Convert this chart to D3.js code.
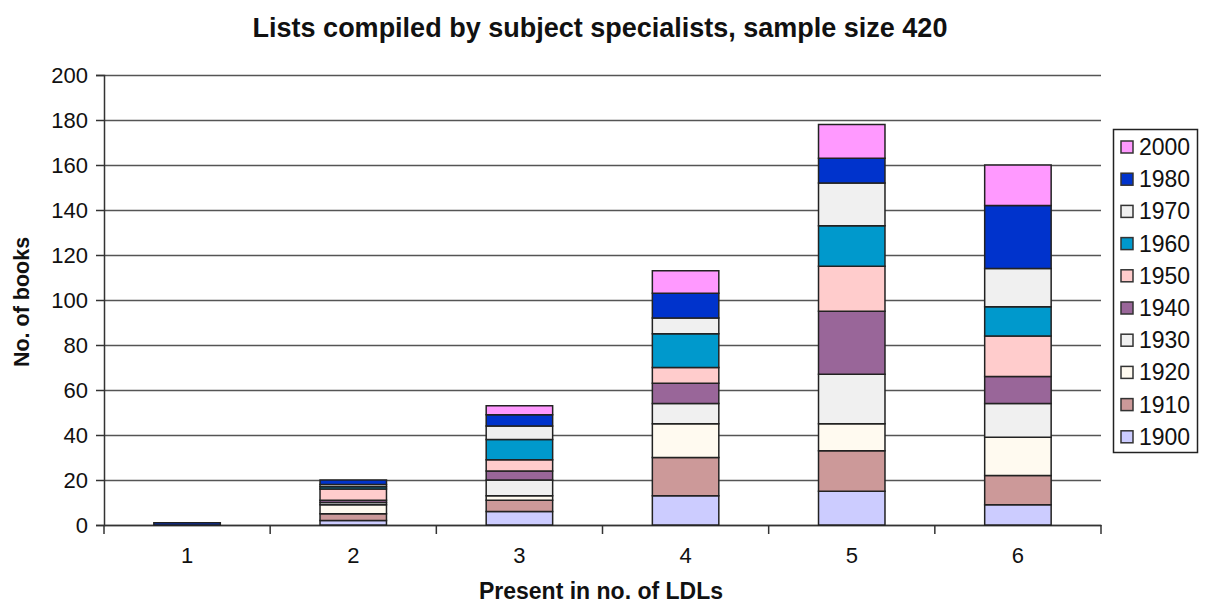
<!DOCTYPE html>
<html>
<head>
<meta charset="utf-8">
<style>
    body { margin: 0; background: #fff; }
    svg { display: block; font-family: "Liberation Sans", Arial, Helvetica, sans-serif; }
    .grid line { stroke: #555; stroke-width: 1.5; }
    .grid .domain { display: none; }
    .y .tick text, .x .tick text { font-size: 22px; fill: #111; }
    .y .tick line, .x .tick line { stroke: #333; stroke-width: 1.5; }
    .y .domain, .x .domain { stroke: #333; stroke-width: 1.5; }
    .title { font-size: 27px; font-weight: bold; fill: #111; }
    .axis-label { font-size: 23px; font-weight: bold; fill: #111; }
    .ylabel { font-size: 21.5px; }
    .legend text { font-size: 23px; fill: #111; }
</style>
</head>
<body>
<svg width="1207" height="606"></svg>

<script src="https://cdnjs.cloudflare.com/ajax/libs/d3/7.8.5/d3.min.js"></script>
<script>
    // categories on the x axis (number of LDLs)
    let categories = ["1", "2", "3", "4", "5", "6"]

    // decades, bottom of stack first
    let decades = ["1900", "1910", "1920", "1930", "1940", "1950", "1960", "1970", "1980", "2000"]

    // books per decade, one value per category
    let v1900 = [0, 2, 6, 13, 15, 9]
    let v1910 = [0, 3, 5, 17, 18, 13]
    let v1920 = [0, 4, 2, 15, 12, 17]
    let v1930 = [0, 1, 7, 9, 22, 15]
    let v1940 = [0, 1, 4, 9, 28, 12]
    let v1950 = [0, 5, 5, 7, 20, 18]
    let v1960 = [0, 1, 9, 15, 18, 13]
    let v1970 = [0, 1, 6, 7, 19, 17]
    let v1980 = [1, 2, 5, 11, 11, 28]
    let v2000 = [0, 0, 4, 10, 15, 18]

    let yTicks = [0, 20, 40, 60, 80, 100, 120, 140, 160, 180, 200]

    let decadeColors = [
        "#ccccff", // 1900
        "#cc9999", // 1910
        "#fffaf0", // 1920
        "#f0f0f0", // 1930
        "#996699", // 1940
        "#ffcccc", // 1950
        "#0099cc", // 1960
        "#f0f0f0", // 1970
        "#0033cc", // 1980
        "#ff99ff"  // 2000
    ]

    let seriesValues = [v1900, v1910, v1920, v1930, v1940, v1950, v1960, v1970, v1980, v2000]

    // build rows for d3.stack
    let rows = categories.map((c, i) => {
        let row = { cat: c }
        decades.forEach((d, j) => { row[d] = seriesValues[j][i] })
        return row
    })

    let svg = d3.select("svg")
    let margin = { top: 75, right: 106, bottom: 81, left: 104 }
    let width = 1207, height = 606

    let x = d3.scaleBand()
        .domain(categories)
        .range([margin.left, width - margin.right])
        .paddingInner(0.6)
        .paddingOuter(0.3)

    let y = d3.scaleLinear()
        .domain([0, 200])
        .range([height - margin.bottom, margin.top])

    let color = d3.scaleOrdinal().domain(decades).range(decadeColors)

    // horizontal gridlines
    svg.append("g")
        .attr("class", "grid")
        .attr("transform", `translate(${margin.left},0)`)
        .call(d3.axisLeft(y).tickValues(yTicks).tickSize(-(width - margin.right - margin.left)).tickFormat(""))

    // y axis
    svg.append("g")
        .attr("class", "y axis")
        .attr("transform", `translate(${margin.left},0)`)
        .call(d3.axisLeft(y).tickValues(yTicks).tickSize(8).tickPadding(8))

    // x axis, ticks between categories
    let xAxis = svg.append("g")
        .attr("class", "x axis")
        .attr("transform", `translate(0,${y(0)})`)
        .call(d3.axisBottom(x).tickSize(0).tickPadding(22))

    let step = x.step()
    xAxis.selectAll(".sep")
        .data(d3.range(categories.length + 1))
        .join("line")
        .attr("class", "sep")
        .attr("x1", i => margin.left + i * step)
        .attr("x2", i => margin.left + i * step)
        .attr("y1", 0)
        .attr("y2", 9)
        .attr("stroke", "#333")
        .attr("stroke-width", 1.5)

    // stacked bars
    let series = d3.stack().keys(decades)(rows)

    svg.append("g")
        .selectAll("g")
        .data(series)
        .join("g")
        .attr("fill", d => color(d.key))
        .selectAll("rect")
        .data(d => d.filter(p => p[1] - p[0] > 0))
        .join("rect")
        .attr("x", d => x(d.data.cat))
        .attr("width", x.bandwidth())
        .attr("y", d => y(d[1]))
        .attr("height", d => y(d[0]) - y(d[1]))
        .attr("stroke", "#222")
        .attr("stroke-width", 1.5)

    // title and axis labels
    svg.append("text")
        .attr("class", "title")
        .attr("x", 600)
        .attr("y", 37)
        .attr("text-anchor", "middle")
        .text("Lists compiled by subject specialists, sample size 420")

    svg.append("text")
        .attr("class", "axis-label")
        .attr("x", 601)
        .attr("y", 599)
        .attr("text-anchor", "middle")
        .text("Present in no. of LDLs")

    svg.append("text")
        .attr("class", "axis-label ylabel")
        .attr("transform", "translate(29,302) rotate(-90)")
        .attr("text-anchor", "middle")
        .text("No. of books")

    // legend, newest decade on top
    let legend = svg.append("g").attr("class", "legend")
    legend.append("rect")
        .attr("x", 1113.5)
        .attr("y", 129.5)
        .attr("width", 84)
        .attr("height", 323)
        .attr("fill", "#fff")
        .attr("stroke", "#222")
        .attr("stroke-width", 1.5)

    let legendItems = decades.slice().reverse()
    let item = legend.selectAll(".item")
        .data(legendItems)
        .join("g")
        .attr("class", "item")
        .attr("transform", (d, i) => `translate(1121,${147 + i * 32.2})`)

    item.append("rect")
        .attr("x", 0)
        .attr("y", -6)
        .attr("width", 12)
        .attr("height", 12)
        .attr("fill", d => color(d))
        .attr("stroke", "#333")
        .attr("stroke-width", 1.5)

    item.append("text")
        .attr("x", 18)
        .attr("y", 8)
        .text(d => d)
</script>
</body>
</html>
